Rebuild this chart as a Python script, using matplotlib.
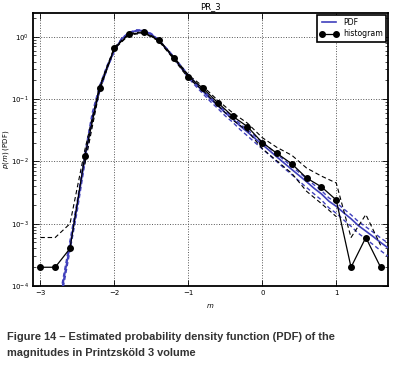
import numpy as np
import matplotlib.pyplot as plt

# histogram of magnitudes (normalised) with its error bounds
m_hist = [-3.0, -2.8, -2.6, -2.4, -2.2, -2.0, -1.8, -1.6, -1.4, -1.2, -1.0, -0.8,
          -0.6, -0.4, -0.2, 0.0, 0.2, 0.4, 0.6, 0.8, 1.0, 1.2, 1.4, 1.6]
p_hist = [2e-4, 2e-4, 4e-4, 0.012, 0.15, 0.66, 1.10, 1.17, 0.88, 0.46, 0.23, 0.148,
          0.087, 0.053, 0.036, 0.020, 0.0134, 0.0091, 0.0054, 0.0039, 0.0024, 2e-4, 6e-4, 2e-4]
hist_hi = [6e-4, 6e-4, 1e-3, 0.0151, 0.161, 0.683, 1.13, 1.20, 0.906, 0.479, 0.244, 0.159,
           0.095, 0.060, 0.041, 0.024, 0.0167, 0.0125, 0.0078, 0.0058, 0.0045, 6e-4, 0.0014, 4.5e-4]
hist_lo = [np.nan, np.nan, np.nan, 0.0089, 0.139, 0.637, 1.07, 1.14, 0.854, 0.441, 0.216, 0.137,
           0.079, 0.046, 0.031, 0.016, 0.0101, 0.0064, 0.0033, 0.0021, 0.0013, np.nan, np.nan, np.nan]

# fitted PDF with its bounds
m_pdf = [-2.8, -2.7, -2.6, -2.5, -2.4, -2.3, -2.2, -2.1, -2.0, -1.9, -1.8, -1.7, -1.6, -1.5,
         -1.4, -1.3, -1.2, -1.1, -1.0, -0.9, -0.8, -0.7, -0.6, -0.5, -0.4, -0.3, -0.2, -0.1,
         0.0, 0.1, 0.2, 0.3, 0.4, 0.5, 0.6, 0.7, 0.8, 0.9, 1.0, 1.1, 1.2, 1.3, 1.4, 1.5, 1.6, 1.7]
p_pdf = [2.0e-5, 1.0e-4, 4.5e-4, 2.0e-3, 1.1e-2, 5.0e-2, 0.145, 0.32, 0.60, 0.93, 1.15, 1.26,
         1.25, 1.10, 0.87, 0.65, 0.47, 0.33, 0.235, 0.174, 0.132, 0.100, 0.078, 0.060, 0.048,
         0.037, 0.0295, 0.0234, 0.0186, 0.0148, 0.0117, 0.0093, 0.0074, 0.0059, 0.0047, 0.0037,
         0.0030, 0.0023, 0.0019, 0.0015, 0.0012, 0.00093, 0.00076, 0.00062, 0.00050, 0.00041]
pdf_hi = [2.4e-5, 1.2e-4, 5.4e-4, 2.4e-3, 1.32e-2, 6.0e-2, 0.163, 0.343, 0.614, 0.951, 1.176,
          1.289, 1.279, 1.125, 0.890, 0.665, 0.486, 0.343, 0.246, 0.183, 0.139, 0.106, 0.083,
          0.064, 0.0516, 0.0400, 0.0320, 0.0255, 0.0204, 0.0163, 0.0130, 0.0104, 0.0083, 0.0066,
          0.0053, 0.0042, 0.0034, 0.0026, 0.00218, 0.00173, 0.00139, 0.00108, 0.00089, 0.00073,
          0.00059, 0.00049]
pdf_lo = [1.66e-5, 8.3e-5, 3.7e-4, 1.66e-3, 9.2e-3, 4.2e-2, 0.129, 0.299, 0.586, 0.909, 1.124,
          1.231, 1.221, 1.075, 0.850, 0.635, 0.454, 0.316, 0.219, 0.161, 0.121, 0.0909, 0.0703,
          0.0535, 0.0425, 0.0324, 0.0256, 0.0201, 0.0159, 0.0125, 0.0098, 0.0077, 0.0061, 0.0048,
          0.0038, 0.0030, 0.0024, 0.0018, 0.00147, 0.00115, 0.00091, 0.00070, 0.00057, 0.00046,
          0.00037, 0.00030]

x_ticks = [-3, -2, -1, 0, 1]

blue = '#4040bc'

fig = plt.figure(figsize=(3.94, 3.69), dpi=100)
ax = fig.add_axes([0.0838, 0.2249, 0.901, 0.7398])

ax.plot(m_pdf, p_pdf, color=blue, lw=1.2, label='PDF', zorder=3)
ax.plot(m_pdf, pdf_hi, color=blue, lw=1.0, ls='--', dashes=(3, 2), zorder=3)
ax.plot(m_pdf, pdf_lo, color=blue, lw=1.0, ls='--', dashes=(3, 2), zorder=3)

ax.plot(m_hist, p_hist, color='black', lw=0.9, marker='o', ms=4, label='histogram', zorder=4)
ax.plot(m_hist, hist_hi, color='black', lw=0.8, ls='--', dashes=(4, 2.5), zorder=4)
ax.plot(m_hist, hist_lo, color='black', lw=0.8, ls='--', dashes=(4, 2.5), zorder=4)

ax.set_yscale('log')
ax.set_xlim(-3.1, 1.7)
ax.set_ylim(1e-4, 2.4)
ax.set_xticks(x_ticks)
ax.set_xticklabels(['\u22123', '\u22122', '\u22121', '0', '1'])

ax.grid(True, which='major', color='#555555', ls=':', lw=0.7)
ax.tick_params(which='both', direction='in', top=True, right=True, labelsize=5, pad=3)
ax.tick_params(which='major', length=4, width=0.6)
ax.tick_params(which='minor', length=2, width=0.5)
for s in ax.spines.values():
    s.set_linewidth(1.3)

ax.set_title('PR_3', fontsize=6, pad=3)
ax.set_xlabel('$m$', fontsize=5, labelpad=4)
ax.set_ylabel('$p(m)$ (PDF)', fontsize=5)
ax.yaxis.set_label_coords(-0.062, 0.5)

leg = ax.legend(loc='upper right', fontsize=5.6, numpoints=2, fancybox=False,
                framealpha=1, edgecolor='black', borderpad=0.4, handlelength=2.4,
                handletextpad=0.6, labelspacing=0.3, borderaxespad=0.25)
leg.get_frame().set_linewidth(1.2)

fig.text(7 / 394, 1 - 337 / 369, 'Figure 14 \u2013 Estimated probability density function (PDF) of the',
         fontsize=7.9, fontweight='bold', color='#333333', family='Liberation Sans', va='center')
fig.text(7 / 394, 1 - 353 / 369, 'magnitudes in Printzsk\u00f6ld 3 volume',
         fontsize=7.9, fontweight='bold', color='#333333', family='Liberation Sans', va='center')

fig.savefig('out.png', dpi=100)
